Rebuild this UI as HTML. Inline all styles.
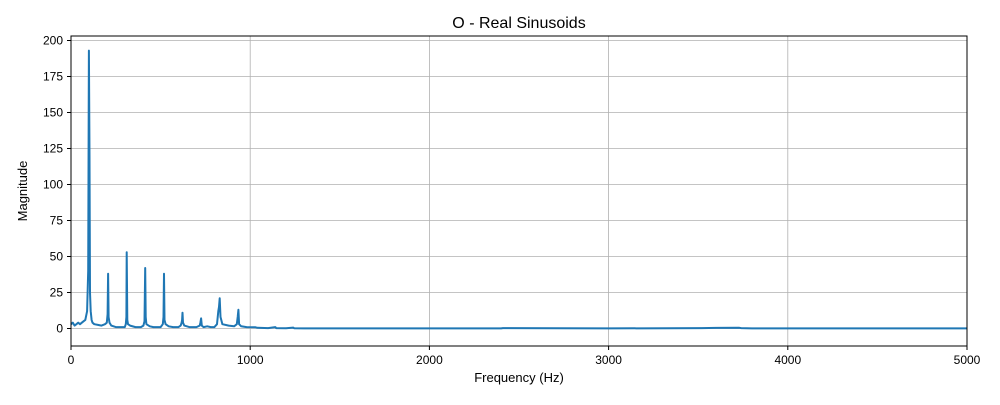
<!DOCTYPE html>
<html><head><meta charset="utf-8"><style>
body{margin:0;background:#fff;font-family:"Liberation Sans",sans-serif}
svg text{font-family:"Liberation Sans",sans-serif;fill:#000}
</style></head><body>
<svg id="chart" width="1000" height="400" xmlns="http://www.w3.org/2000/svg">
<text x="519" y="28" font-size="16" text-anchor="middle">O - Real Sinusoids</text>
<text x="519" y="382" font-size="13" text-anchor="middle">Frequency (Hz)</text>
<text transform="translate(27,191) rotate(-90)" font-size="13" text-anchor="middle">Magnitude</text>
<g id="grid"></g><g id="ticks"></g><g id="series"></g>
<rect x="71" y="36" width="896" height="310" fill="none" stroke="#000" stroke-width="1"/>
</svg>
<script>
const xTicks=[0,1000,2000,3000,4000,5000];
const yTicks=[0,25,50,75,100,125,150,175,200];
const freqs=[
0,10,20,30,40,50,60,70,80,90,96,
100,103,106,110,115,120,130,150,170,190,
200,204,207,210,215,225,250,280,
300,306,309,311,314,318,330,360,390,
404,410,414,417,421,440,460,480,
500,512,516,519,522,528,545,570,
600,612,617,620,622,625,632,660,700,
718,722,726,730,740,760,780,800,
815,822,826,830,834,845,880,910,
925,930,934,938,950,980,
1030,1040,1100,1140,1145,1200,1240,1245,1300,1350,
2000,2400,2410,3000,3520,3600,3730,3740,3800,4500,5000];
const mags=[
3,4,2,3,4,3,4,5,6,12,40,
193,120,25,12,6,4,3,2.5,2,3,
4,10,38,8,4,2,1,1,
1,3,8,53,6,3,2,1,1,
2,5,42,8,3,1.5,1,1,
1,3,8,38,6,3,1.5,1,
1,2,4,6,11,4,2,1,1,
2,4,7,2,1,1.5,1,1,
3,12,15,21,8,3,2,1.5,
3,8,13,3,1.5,1,
0.8,0.5,0.3,1,0.3,0.2,0.6,0.2,0.1,0.1,
0.1,0.1,0.3,0.1,0.3,0.4,0.5,0.3,0.1,0.1,0.1];
const X=v=>71+v*896/5000, Y=v=>328.5-v*1.44;
const NS="http://www.w3.org/2000/svg";
const grid=document.getElementById('grid'),ticks=document.getElementById('ticks'),series=document.getElementById('series');
function mk(tag,attrs,parent){const e=document.createElementNS(NS,tag);for(const k in attrs)e.setAttribute(k,attrs[k]);parent.appendChild(e);return e;}
xTicks.forEach(t=>{
  const g=mk('line',{x1:X(t),x2:X(t),y1:36,y2:346,stroke:'#b0b0b0','stroke-width':0.8},grid);
  
  
  mk('line',{x1:X(t),x2:X(t),y1:346,y2:350,stroke:'#000'},ticks);
  const l=mk('text',{x:X(t),y:364,'font-size':12,'text-anchor':'middle'},ticks);l.textContent=t;
  
  
});
yTicks.forEach(t=>{
  const g=mk('line',{x1:71,x2:967,y1:Y(t),y2:Y(t),stroke:'#b0b0b0','stroke-width':0.8},grid);
  
  
  mk('line',{x1:67,x2:71,y1:Y(t),y2:Y(t),stroke:'#000'},ticks);
  const l=mk('text',{x:63,y:Y(t)+4,'font-size':12,'text-anchor':'end'},ticks);l.textContent=t;
  
  
});
const n=Math.min(freqs.length,mags.length);
let d='';
for(let i=0;i<n;i++)d+=(i?'L':'M')+X(freqs[i]).toFixed(1)+','+Y(mags[i]).toFixed(1)+' ';
const p=mk('path',{d:d,fill:'none',stroke:'#1f77b4','stroke-width':2,'stroke-linejoin':'round'},series);


</script>
</body></html>
